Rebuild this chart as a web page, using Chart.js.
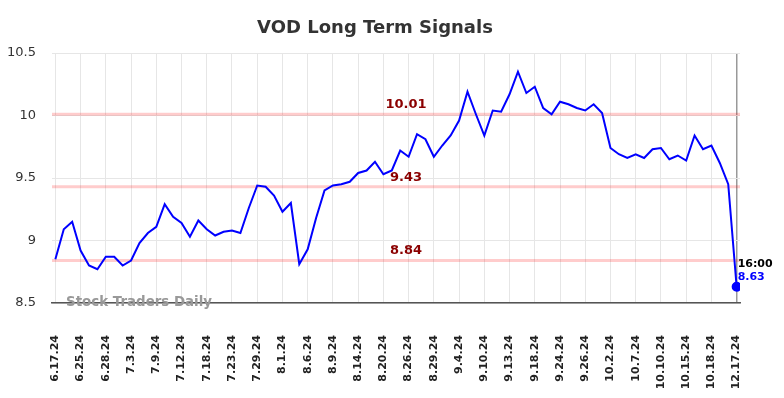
<!DOCTYPE html>
<html>
<head>
<meta charset="utf-8">
<script src="https://cdn.jsdelivr.net/npm/chart.js@4"></script>
<style>
    html, body { margin: 0; padding: 0; background: #fff; }
    #wrap { width: 784px; height: 398px; position: relative; }
</style>
</head>
<body>
<div id="wrap"><canvas id="signalChart"></canvas></div>
<script>
const tickLabels = ["6.17.24", "6.25.24", "6.28.24", "7.3.24", "7.9.24", "7.12.24", "7.18.24",
    "7.23.24", "7.29.24", "8.1.24", "8.6.24", "8.9.24", "8.14.24", "8.20.24", "8.26.24",
    "8.29.24", "9.4.24", "9.10.24", "9.13.24", "9.18.24", "9.24.24", "9.26.24", "10.2.24",
    "10.7.24", "10.10.24", "10.15.24", "10.18.24", "12.17.24"]

const closes = [
    8.85, 9.09, 9.15, 8.92, 8.80, 8.77, 8.87, 8.87, 8.80, 8.84,
    8.98, 9.06, 9.11, 9.29, 9.19, 9.14, 9.03, 9.16, 9.09, 9.04,
    9.07, 9.08, 9.06, 9.26, 9.44, 9.43, 9.36, 9.23, 9.30, 8.81,
    8.93, 9.18, 9.40, 9.44, 9.45, 9.47, 9.54, 9.56, 9.63, 9.53,
    9.56, 9.72, 9.67, 9.85, 9.81, 9.67, 9.76, 9.84, 9.96, 10.19,
    10.01, 9.84, 10.04, 10.03, 10.17, 10.35, 10.18, 10.23, 10.06, 10.01,
    10.11, 10.09, 10.06, 10.04, 10.09, 10.02, 9.74, 9.69, 9.66, 9.69,
    9.66, 9.73, 9.74, 9.65, 9.68, 9.64, 9.84, 9.73, 9.76, 9.62,
    9.45, 8.63]

const signalLevels = [10.01, 9.43, 8.84]
const yTicks = [8.5, 9, 9.5, 10, 10.5]
const lastTime = "16:00"
const chartTitle = "VOD Long Term Signals"
const watermark = "Stock Traders Daily"

const tickStep = 3
const lastIndex = closes.length - 1

Chart.defaults.font.family = "'DejaVu Sans', sans-serif"

// red signal lines + their labels, under the price line
const signalPlugin = {
    id: 'signals',
    beforeDatasetsDraw(chart)
    {
        const {ctx, chartArea, scales} = chart
        ctx.save()
        signalLevels.forEach(level =>
        {
            const y = scales.y.getPixelForValue(level)
            ctx.strokeStyle = 'rgba(255, 0, 0, 0.2)'
            ctx.lineWidth = 3
            ctx.beginPath()
            ctx.moveTo(chartArea.left, y)
            ctx.lineTo(chartArea.right, y)
            ctx.stroke()
            ctx.fillStyle = '#8b0000'
            ctx.font = "bold 13px 'DejaVu Sans'"
            ctx.textAlign = 'center'
            ctx.textBaseline = 'bottom'
            ctx.fillText(level.toFixed(2), scales.x.getPixelForValue(41.7), y - 3)
        })
        ctx.restore()
    },
    afterDraw(chart)
    {
        const {ctx, chartArea, scales} = chart
        ctx.save()
        // title
        ctx.fillStyle = '#333'
        ctx.font = "bold 18px 'DejaVu Sans'"
        ctx.textAlign = 'center'
        ctx.textBaseline = 'alphabetic'
        ctx.fillText(chartTitle, 375, 33)
        // watermark
        ctx.fillStyle = '#999'
        ctx.font = "bold 13.4px 'DejaVu Sans'"
        ctx.textAlign = 'left'
        ctx.textBaseline = 'middle'
        ctx.fillText(watermark, chartArea.left + 14, chartArea.bottom)
        // last value label
        const px = scales.x.getPixelForValue(lastIndex)
        const py = scales.y.getPixelForValue(closes[lastIndex])
        ctx.font = "bold 11px 'DejaVu Sans'"
        ctx.textBaseline = 'alphabetic'
        ctx.fillStyle = '#000'
        ctx.fillText(lastTime, px + 1, py - 20)
        ctx.fillStyle = '#0000ff'
        ctx.fillText(closes[lastIndex].toFixed(2), px + 1, py - 7)
        ctx.restore()
    }
}

const graphConfig = {
    type: 'line',
    data: {
        datasets: [{
            label: "VOD",
            borderColor: "#0000ff",
            backgroundColor: "#0000ff",
            borderWidth: 2,
            tension: 0,
            pointRadius: closes.map((_, i) => i === lastIndex ? 4 : 0),
            pointHoverRadius: 0,
            data: closes.map((v, i) => ({x: i, y: v})),
        }],
    },
    options: {
        responsive: true,
        maintainAspectRatio: false,
        animation: false,
        layout: {
            padding: {left: 0, right: 44, top: 53, bottom: 0}
        },
        scales: {
            x: {
                type: 'linear',
                min: -0.4,
                max: lastIndex + 0.4,
                afterBuildTicks: (scale) =>
                {
                    scale.ticks = tickLabels.map((_, i) => ({value: i * tickStep}))
                },
                afterFit: (scale) => { scale.height = 95 },
                ticks: {
                    autoSkip: false,
                    minRotation: 90,
                    maxRotation: 90,
                    padding: 32,
                    color: '#222',
                    font: {size: 11, weight: 'bold'},
                    callback: (v) => tickLabels[Math.round(v / tickStep)] ?? ''
                },
                grid: {
                    drawTicks: false,
                    color: (c) => c.tick && c.tick.value === lastIndex ? '#999' : '#e6e6e6',
                    lineWidth: (c) => c.tick && c.tick.value === lastIndex ? 1.5 : 1
                },
                border: {color: '#555', width: 1.5}
            },
            y: {
                min: 8.5,
                max: 10.5,
                afterBuildTicks: (scale) =>
                {
                    scale.ticks = yTicks.map(v => ({value: v}))
                },
                afterFit: (scale) => { scale.width = 52 },
                ticks: {
                    padding: 16,
                    color: '#333',
                    font: {size: 13},
                    callback: (v) => String(v)
                },
                grid: {
                    drawTicks: false,
                    color: '#e6e6e6'
                },
                border: {display: false}
            },
        },
        plugins: {
            legend: {display: false},
            title: {display: false},
            tooltip: {enabled: false}
        },
    },
    plugins: [signalPlugin]
}

const ctx = document.getElementById("signalChart")
const myChart = new Chart(ctx, graphConfig)
</script>
</body>
</html>
